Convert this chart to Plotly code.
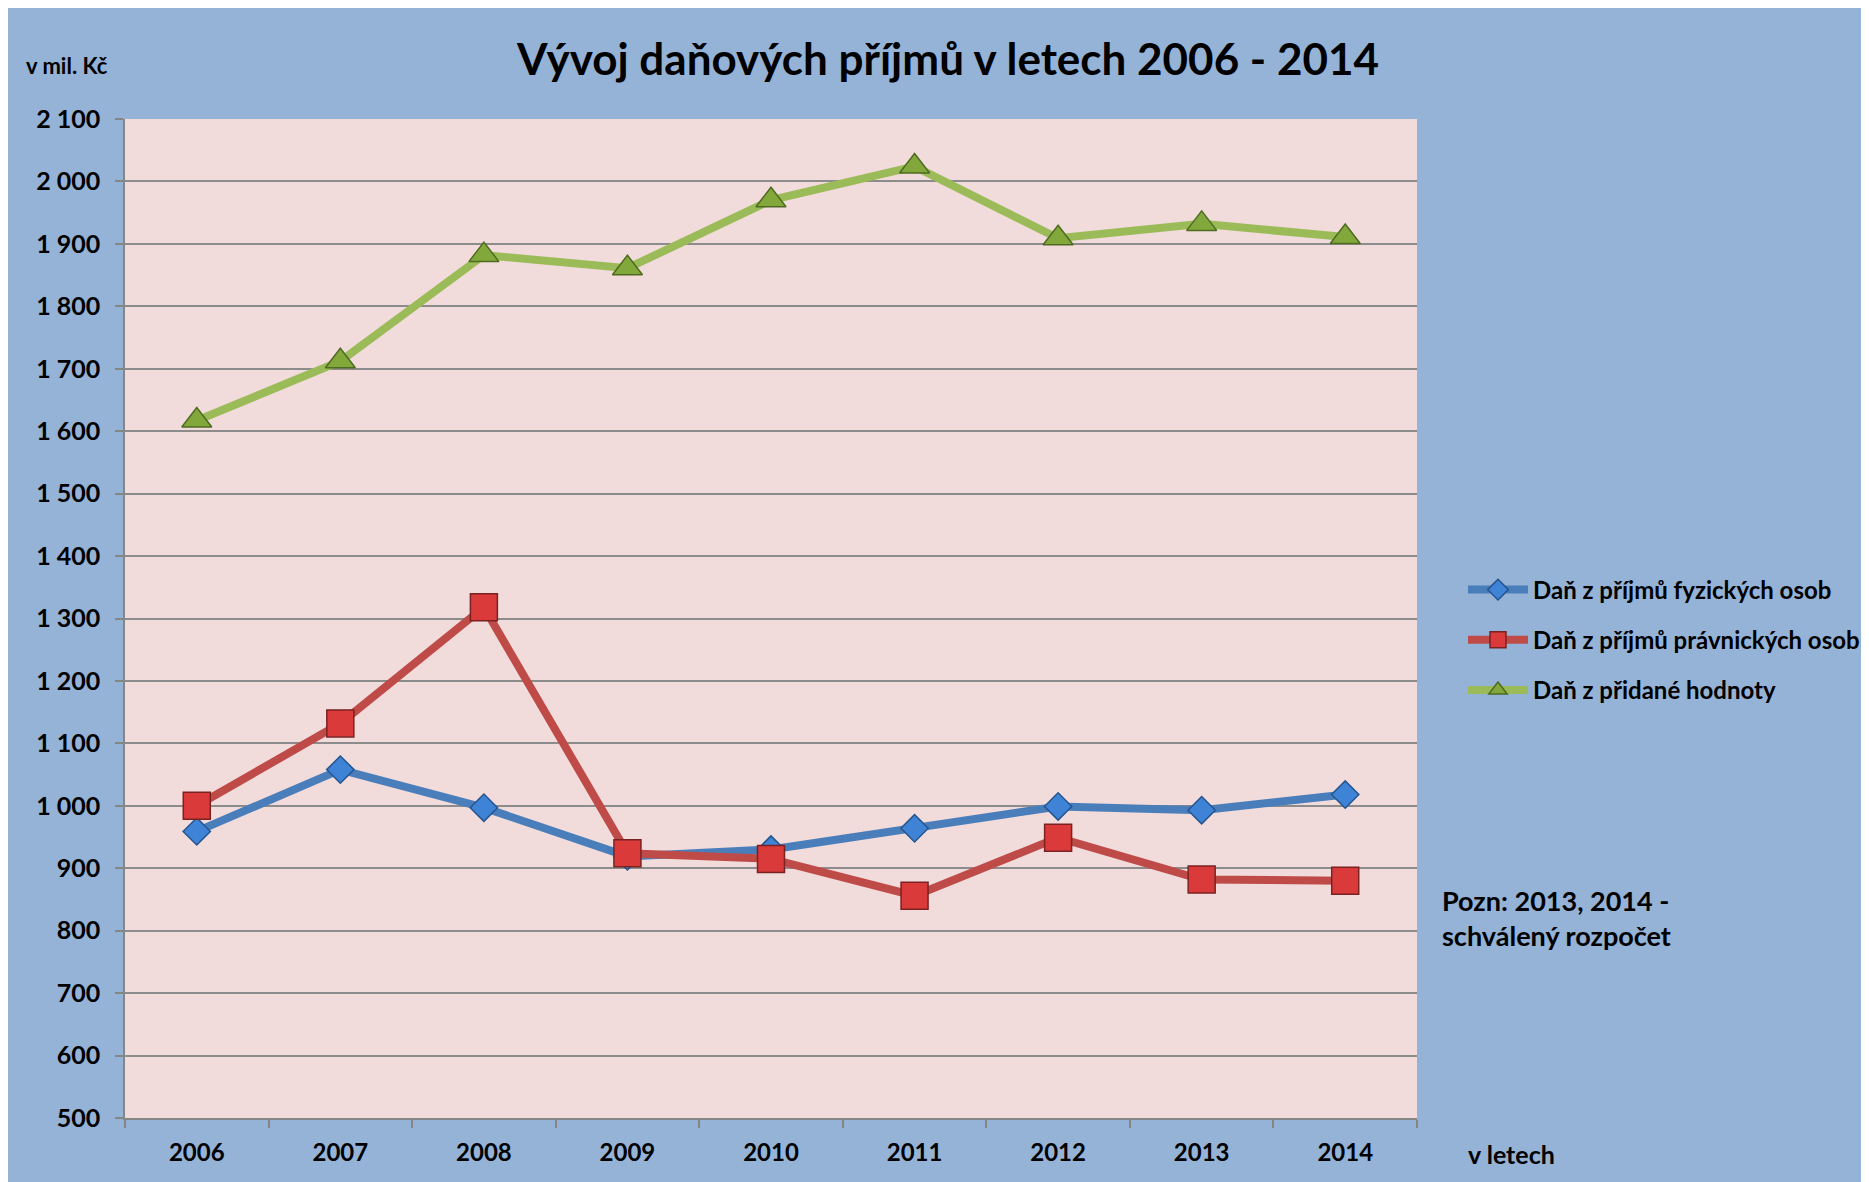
import plotly.graph_objects as go

years = ["2006", "2007", "2008", "2009", "2010", "2011", "2012", "2013", "2014"]
fyzicke = [959, 1058, 997, 919, 930, 964, 999, 993, 1018]
pravnicke = [1000, 1132, 1318, 924, 915, 856, 949, 882, 880]
dph = [1617, 1712, 1882, 1861, 1970, 2024, 1909, 1932, 1911]
names = ["Daň z příjmů fyzických osob", "Daň z příjmů právnických osob", "Daň z přidané hodnoty"]
y_ticks = [500, 600, 700, 800, 900, 1000, 1100, 1200, 1300, 1400, 1500, 1600, 1700, 1800, 1900, 2000, 2100]

FONT = "Lato"
W, H = 1861, 1174
L, T, R, B = 117, 111, 452, 64
PW, PH = W - L - R, H - T - B


def px(x):
    return (x - L) / PW


def py(y):
    return 1 - (y - T) / PH


fig = go.Figure()
fig.add_trace(go.Scatter(
    x=years, y=fyzicke, name=names[0], mode="lines+markers", legendgroup="a",
    line=dict(color="#4A7EBB", width=8),
    marker=dict(symbol="diamond", size=21, color="#3F83D6", line=dict(color="#24558F", width=1.5)),
))
fig.add_trace(go.Scatter(
    x=years, y=pravnicke, name=names[1], mode="lines+markers", legendgroup="b",
    line=dict(color="#BE4B48", width=8),
    marker=dict(symbol="square", size=27, color="#DA3A3A", line=dict(color="#7A2222", width=1.5)),
))
fig.add_trace(go.Scatter(
    x=years, y=dph, name=names[2], mode="lines+markers", legendgroup="c",
    line=dict(color="#9BBB59", width=8),
    marker=dict(symbol="triangle-up", size=26, color="#82A83C", line=dict(color="#4F6B22", width=1.5)),
))

fig.update_layout(
    width=W, height=H,
    paper_bgcolor="#95B3D7",
    plot_bgcolor="#F2DCDB",
    margin=dict(l=L, r=R, t=T, b=B, autoexpand=False),
    separators=", ",
    font=dict(family=FONT, color="black"),
    showlegend=True,
    legend=dict(
        x=px(1455), y=py(632), xanchor="left", yanchor="middle",
        bgcolor="rgba(0,0,0,0)", traceorder="grouped", tracegroupgap=16,
        font=dict(family=FONT, size=24, color="black", weight="bold"),
        itemwidth=60,
    ),
    title=dict(
        text="<b>Vývoj daňových příjmů v letech 2006 - 2014</b>",
        x=(940) / W, xanchor="center", y=1 - 52 / H, yanchor="middle",
        font=dict(family=FONT, size=44, color="black"),
    ),
    xaxis=dict(
        type="category", range=[-0.5, 8.5],
        showline=True, linecolor="#868686", linewidth=1.5,
        showgrid=False, ticks="outside", tickson="boundaries",
        ticklen=8, tickcolor="#868686", tickwidth=1.5,
        tickfont=dict(family=FONT, size=24, color="black", weight="bold"),
        ticklabelstandoff=12,
    ),
    yaxis=dict(
        range=[500, 2100], tickvals=y_ticks, tickformat=",d",
        showline=True, linecolor="#868686", linewidth=1.5,
        showgrid=True, gridcolor="#8C8C8C", gridwidth=1.5,
        ticks="outside", ticklen=8, tickcolor="#868686", tickwidth=1.5,
        tickfont=dict(family=FONT, size=25, color="black", weight="bold"),
        ticklabelstandoff=10,
        zeroline=False,
    ),
    annotations=[
        dict(text="<b>v mil. Kč</b>", xref="paper", yref="paper",
             x=px(16), y=py(58), xanchor="left", yanchor="middle",
             showarrow=False, font=dict(family=FONT, size=22, color="black")),
        dict(text="<b>v letech</b>", xref="paper", yref="paper",
             x=px(1458), y=py(1146), xanchor="left", yanchor="middle",
             showarrow=False, font=dict(family=FONT, size=25, color="black")),
        dict(text="<b>Pozn: 2013, 2014 -<br>schválený rozpočet</b>", xref="paper", yref="paper",
             x=px(1432), y=py(910), xanchor="left", yanchor="middle", align="left",
             showarrow=False, font=dict(family=FONT, size=27, color="black")),
    ],
)

fig.write_html("out.html")
